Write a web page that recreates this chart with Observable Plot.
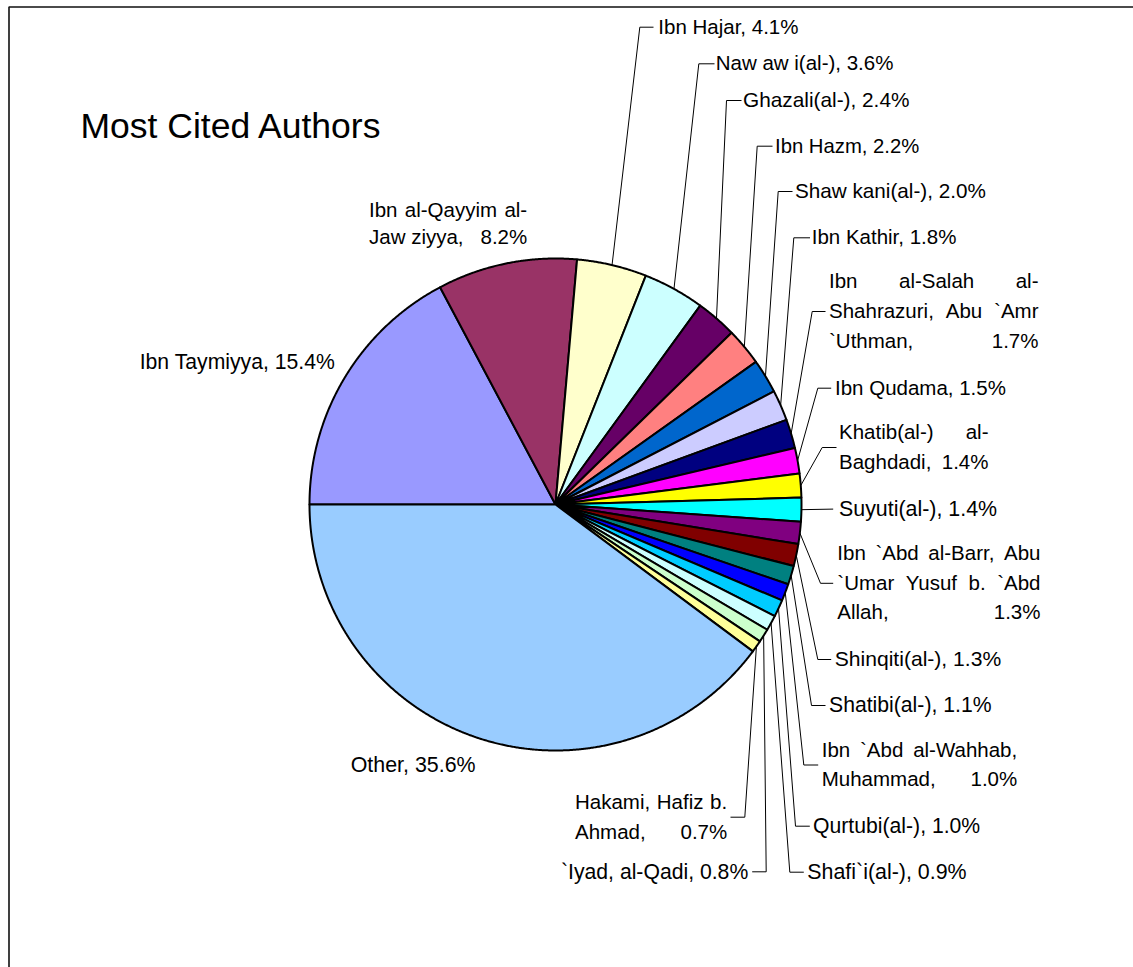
<!DOCTYPE html>
<html><head><meta charset="utf-8">
<script src="https://cdn.jsdelivr.net/npm/d3@7"></script>
<script src="https://cdn.jsdelivr.net/npm/@observablehq/plot@0.6"></script>
<style>html,body{margin:0;padding:0;background:#fff;overflow:hidden}</style>
</head><body><div id="chart"></div>
<script>
// ---- data ----
const title = "Most Cited Authors";
const authors = ["Ibn Taymiyya", "Ibn al-Qayyim al-Jawziyya", "Ibn Hajar", "Nawawi(al-)", "Ghazali(al-)", "Ibn Hazm",
  "Shawkani(al-)", "Ibn Kathir", "Ibn al-Salah al-Shahrazuri, Abu `Amr `Uthman", "Ibn Qudama", "Khatib(al-) al-Baghdadi",
  "Suyuti(al-)", "Ibn `Abd al-Barr, Abu `Umar Yusuf b. `Abd Allah", "Shinqiti(al-)", "Shatibi(al-)",
  "Ibn `Abd al-Wahhab, Muhammad", "Qurtubi(al-)", "Shafi`i(al-)", "`Iyad, al-Qadi", "Hakami, Hafiz b. Ahmad", "Other"];
const values = [15.4, 8.2, 4.1, 3.6, 2.4, 2.2, 2.0, 1.8, 1.7, 1.5, 1.4, 1.4, 1.3, 1.3, 1.1, 1.0, 1.0, 0.9, 0.8, 0.7, 35.6];
const colors = ["#9999FF", "#993366", "#FFFFCC", "#CCFFFF", "#660066", "#FF8080", "#0066CC", "#CCCCFF", "#000080",
  "#FF00FF", "#FFFF00", "#00FFFF", "#800080", "#800000", "#008080", "#0000FF", "#00CCFF", "#CCFFFF", "#CCFFCC",
  "#FFFF99", "#99CCFF"];
// label text lines as displayed (value appended to the last line)
const labelLines = [
  ["Ibn Taymiyya,"],
  ["Ibn al-Qayyim al-", "Jaw\u00A0ziyya,"],
  ["Ibn Hajar,"],
  ["Naw aw i(al-),"],
  ["Ghazali(al-),"],
  ["Ibn Hazm,"],
  ["Shaw kani(al-),"],
  ["Ibn Kathir,"],
  ["Ibn al-Salah al-", "Shahrazuri, Abu `Amr", "`Uthman,"],
  ["Ibn Qudama,"],
  ["Khatib(al-) al-", "Baghdadi,"],
  ["Suyuti(al-),"],
  ["Ibn `Abd al-Barr, Abu", "`Umar Yusuf b. `Abd", "Allah,"],
  ["Shinqiti(al-),"],
  ["Shatibi(al-),"],
  ["Ibn `Abd al-Wahhab,", "Muhammad,"],
  ["Qurtubi(al-),"],
  ["Shafi`i(al-),"],
  ["`Iyad, al-Qadi,"],
  ["Hakami, Hafiz b.", "Ahmad,"],
  ["Other,"]
];

// ---- layout (pixels) ----
const W = 1133, H = 967, CX = 555, CY = 504, R = 246;
const FONT = "'Liberation Sans', Arial, Helvetica, sans-serif";
const FS = 20.5;
const labelLayout = [
  {x: 139.2, y: 361.7, fs: 21.2},
  {x: 368.5, y: 223.3, w: 158.2, lh: 26.7},
  {x: 657.8, y: 26.7, ex: 639.3, hx: 653},
  {x: 715.2, y: 63.3, ex: 698.3, hx: 714},
  {x: 742.5, y: 100, ex: 726, hx: 741, fs: 20.8},
  {x: 774.5, y: 145.7, ex: 756.7, hx: 772, fs: 20.3},
  {x: 794.5, y: 191, ex: 777.7, hx: 792, fs: 20.7},
  {x: 811.2, y: 237.3, ex: 793.3, hx: 809.5},
  {x: 828.5, y: 311, w: 209.5, lh: 30.2, ex: 811.7, hx: 825},
  {x: 834.5, y: 387.7, ex: 817.3, hx: 830.7},
  {x: 838.5, y: 447, w: 149.5, lh: 29.4, ex: 821.7, hx: 836},
  {x: 838.5, y: 508.6, hx: 832.7, fs: 21.4},
  {x: 836.8, y: 582.8, w: 203.2, lh: 29.5, ex: 820, hx: 832.7},
  {x: 834.2, y: 659, ex: 817.3, hx: 830.7, fs: 21.1},
  {x: 828.5, y: 705, ex: 811, hx: 825, fs: 21.2},
  {x: 821.2, y: 764.5, w: 195.5, lh: 29, ex: 803.3, hx: 817.7},
  {x: 812.5, y: 825.7, ex: 795, hx: 809.3, fs: 21.2},
  {x: 806.8, y: 871.7, ex: 789.3, hx: 803.3, fs: 21.4},
  {x: 560.5, y: 871.3, ex: 765.7, hx: 751.7, fs: 21.2},
  {x: 574.5, y: 816.7, w: 152.2, lh: 30, ex: 744.3, hx: 730},
  {x: 350.2, y: 765, fs: 21.4}
];
const ux = px => (px - CX) / R;
const uy = py => (py - CY) / R;

// ---- geometry from data ----
const arcs = d3.pie().sort(null).startAngle(-Math.PI / 2).endAngle(1.5 * Math.PI)(values);
const slicePts = [];
arcs.forEach((a, i) => {
  const n = Math.max(2, Math.ceil((a.endAngle - a.startAngle) / (Math.PI / 720)));
  slicePts.push({id: i, x: 0, y: 0, c: colors[i]});
  for (let k = 0; k <= n; k++) {
    const t = a.startAngle + (a.endAngle - a.startAngle) * k / n;
    slicePts.push({id: i, x: Math.sin(t), y: -Math.cos(t), c: colors[i]});
  }
  slicePts.push({id: i, x: 0, y: 0, c: colors[i]});
});

const leaderPts = [];
arcs.forEach((a, i) => {
  const L = labelLayout[i];
  if (L.hx == null) return;
  const m = (a.startAngle + a.endAngle) / 2;
  leaderPts.push({id: i, x: Math.sin(m), y: -Math.cos(m)});
  if (L.ex != null) leaderPts.push({id: i, x: ux(L.ex), y: uy(L.y)});
  leaderPts.push({id: i, x: ux(L.hx), y: uy(L.y)});
});

// ---- text (justified lines) ----
const ctx = document.createElement("canvas").getContext("2d");
const mw = (s, fs) => { ctx.font = `${fs}px ${FONT}`; return ctx.measureText(s).width; };
const words = [];
labelLines.forEach((ls, i) => {
  const L = labelLayout[i];
  const fs = L.fs ?? FS;
  const lines = ls.slice();
  lines[lines.length - 1] += " " + values[i].toFixed(1) + "%";
  const n = lines.length, lh = L.lh ?? 29.5;
  lines.forEach((line, j) => {
    const y = L.y + (j - (n - 1) / 2) * lh;
    if (!L.w) { words.push({x: ux(L.x), y: uy(y), t: line, fs}); return; }
    const toks = line.split(" ").filter(Boolean);
    const ws = toks.map(t => mw(t, fs));
    const gap = toks.length > 1 ? (L.w - d3.sum(ws)) / (toks.length - 1) : 0;
    let cx = L.x;
    toks.forEach((t, k) => { words.push({x: ux(cx), y: uy(y), t, fs}); cx += ws[k] + gap; });
  });
});

const frame = [
  {x: ux(8.5), y: uy(H + 20)},
  {x: ux(8.5), y: uy(6.5)},
  {x: ux(W + 20), y: uy(6.5)}
];

const chart = Plot.plot({
  width: W, height: H, margin: 0,
  x: {domain: [ux(0), ux(W)], range: [0, W], axis: null},
  y: {domain: [uy(0), uy(H)], range: [0, H], axis: null},
  color: {type: "identity"},
  style: {fontFamily: FONT, background: "#fff", color: "#000"},
  marks: [
    Plot.line(frame, {x: "x", y: "y", stroke: "#111", strokeWidth: 1.6, strokeLinejoin: "miter", strokeLinecap: "butt"}),
    Plot.line(leaderPts, {x: "x", y: "y", z: "id", stroke: "#000", strokeWidth: 1, strokeLinejoin: "miter", strokeLinecap: "butt"}),
    Plot.line(slicePts, {x: "x", y: "y", z: "id", fill: "c", stroke: "#000", strokeWidth: 2, strokeLinejoin: "round"}),
    Plot.text(words, {x: "x", y: "y", text: "t", fontSize: "fs", textAnchor: "start", lineAnchor: "middle", fill: "#000", fontFamily: FONT}),
    Plot.text([title], {x: () => ux(80), y: () => uy(126.1), text: d => d, textAnchor: "start", lineAnchor: "middle", fontSize: 35.5, fill: "#000", fontFamily: FONT})
  ]
});
document.getElementById("chart").appendChild(chart);
</script>
</body></html>
